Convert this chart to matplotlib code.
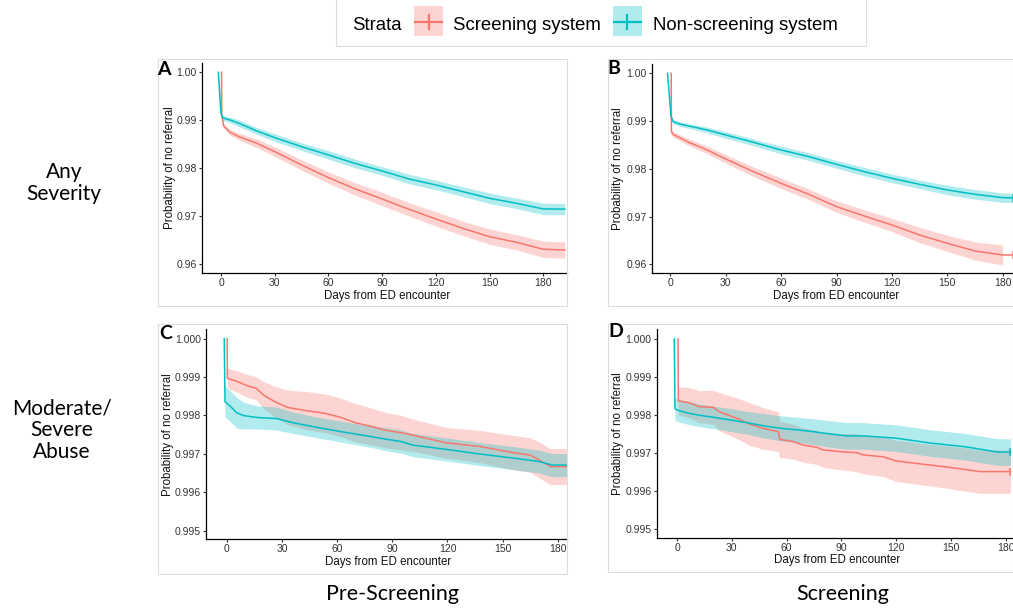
import numpy as np
import matplotlib
matplotlib.use("Agg")
import matplotlib.pyplot as plt
from matplotlib.patches import Rectangle
from matplotlib.lines import Line2D

W, H, DPI = 1013, 608, 100

# ---------------- data ----------------
strata_title = "Strata"
strata = ["Screening system", "Non-screening system"]
row_labels = ["Any\nSeverity", "Moderate/\nSevere\nAbuse"]
col_labels = ["Pre-Screening", "Screening"]
panel_letters = ["A", "B", "C", "D"]
x_label = "Days from ED encounter"
y_label = "Probability of no referral"
x_ticks = [0, 30, 60, 90, 120, 150, 180]
y_ticks_any = [0.96, 0.97, 0.98, 0.99, 1.00]
y_ticks_mod = [0.995, 0.996, 0.997, 0.998, 0.999, 1.000]

# Panel A: any severity, pre-screening
a_scr_days = [0.3, 0.4, 1.5, 5, 10, 20, 30, 45, 60, 75, 90, 105, 120, 135, 150, 165, 180, 192]
a_scr_surv = [1.0, 0.9912, 0.9888, 0.9875, 0.9866, 0.98521, 0.98347, 0.98069, 0.97806, 0.97569,
              0.97361, 0.97146, 0.96944, 0.9675, 0.96576, 0.96458, 0.96313, 0.96300]
a_scr_ci = [0, 0.0003, 0.0004, 0.0006, 0.0007, 0.0009, 0.0010, 0.0011, 0.0012, 0.0013,
            0.0014, 0.0014, 0.0015, 0.0015, 0.0016, 0.0016, 0.0017, 0.0017]
a_non_days = [-1.5, 0, 1, 5, 10, 20, 30, 45, 60, 75, 90, 105, 120, 135, 150, 165, 180, 192]
a_non_surv = [1.0, 0.9915, 0.9905, 0.99007, 0.98938, 0.98778, 0.98639, 0.98451, 0.98278, 0.9810,
              0.97944, 0.97778, 0.97653, 0.97514, 0.97375, 0.97271, 0.97153, 0.97150]
a_non_ci = [0, 0.0004, 0.0005, 0.0006, 0.0007, 0.0007, 0.0008, 0.0008, 0.0009, 0.0009,
            0.0009, 0.0010, 0.0010, 0.0010, 0.0011, 0.0011, 0.0012, 0.0012]

# Panel B: any severity, screening
b_scr_days = [0.5, 0.6, 1.5, 5, 10, 20, 30, 45, 60, 75, 90, 105, 120, 135, 150, 165, 180, 185.4]
b_scr_surv = [1.0, 0.98778, 0.98722, 0.98653, 0.98555, 0.98394, 0.98206, 0.97941, 0.97696, 0.97466,
              0.97208, 0.97012, 0.96824, 0.96614, 0.9644, 0.96279, 0.96195, 0.96195]
b_scr_ci = [0, 0.0005, 0.0006, 0.0006, 0.0007, 0.0008, 0.0009, 0.0010, 0.0011, 0.0011,
            0.0012, 0.0013, 0.0014, 0.0016, 0.0017, 0.0019, 0.0021, np.nan]
b_non_days = [-1.5, 0.4, 1.5, 5, 10, 20, 30, 45, 60, 75, 90, 105, 120, 135, 150, 165, 180, 185.4]
b_non_surv = [1.0, 0.9910, 0.98988, 0.98939, 0.98897, 0.98813, 0.98709, 0.98555, 0.98394, 0.98255,
              0.98094, 0.97941, 0.97801, 0.97675, 0.97557, 0.97466, 0.97396, 0.97390]
b_non_ci = [0, 0.0003, 0.0004, 0.0005, 0.0005, 0.0006, 0.0007, 0.0007, 0.0008, 0.0008,
            0.0008, 0.0009, 0.0009, 0.0009, 0.0010, 0.0010, 0.0010, 0.0010]

# Panel C: moderate/severe abuse, pre-screening
c_scr_days = [0.1, 0.2, 5.9, 11.3, 15.8, 20, 26, 33, 44, 53, 62, 70, 79, 86, 95, 101, 119, 138,
              156, 165, 170, 176, 185]
c_scr_surv = [1.0, 0.99897, 0.99888, 0.99877, 0.99871, 0.99853, 0.99836, 0.99821, 0.99812, 0.99806,
              0.99795, 0.99781, 0.99771, 0.99762, 0.99755, 0.99749, 0.99729, 0.99719, 0.99703,
              0.99697, 0.99684, 0.99667, 0.99667]
c_scr_ci = [0, 0.00026, 0.00028, 0.0003, 0.0003, 0.00035, 0.0004, 0.00045, 0.0005, 0.0005,
            0.0005, 0.0005, 0.00048, 0.00046, 0.00045, 0.00042, 0.0004, 0.00042, 0.00045,
            0.00045, 0.00047, 0.00047, 0.00047]
c_non_days = [-1.5, -1.1, 1.6, 5.3, 8.9, 16, 27, 36, 49, 62, 76, 87, 95, 101, 119, 137, 156, 170, 177, 185]
c_non_surv = [1.0, 0.99836, 0.99825, 0.99807, 0.99800, 0.99795, 0.99792, 0.99781, 0.99769, 0.99758,
              0.99747, 0.99738, 0.99732, 0.99723, 0.99712, 0.99700, 0.99689, 0.99680, 0.99671, 0.99671]
c_non_ci = [0, 0.0004, 0.0004, 0.0004, 0.00035, 0.0003, 0.0003, 0.00028, 0.00027, 0.00027,
            0.00028, 0.0003, 0.0003, 0.0003, 0.0003, 0.0003, 0.0003, 0.0003, 0.0003, 0.0003]

# Panel D: moderate/severe abuse, screening
d_scr_days = [0.6, 0.7, 7, 12, 20, 23, 28, 34, 39.8, 47, 55.5, 56.3, 63.6, 69, 76.6, 80, 91, 98.4,
              102, 113, 120, 139, 148, 157, 166, 182.6]
d_scr_surv = [1.0, 0.99837, 0.99832, 0.99822, 0.99820, 0.99809, 0.99800, 0.99789, 0.99776, 0.99765,
              0.99756, 0.99736, 0.99730, 0.99721, 0.99715, 0.99708, 0.99703, 0.99701, 0.99695,
              0.99690, 0.99679, 0.99668, 0.99663, 0.99657, 0.99651, 0.99651]
d_scr_ci = [0, 0.00037, 0.0004, 0.00042, 0.00045, 0.0005, 0.00052, 0.00054, 0.00056, 0.00055,
            0.00052, 0.00048, 0.00046, 0.00045, 0.00045, 0.00046, 0.00048, 0.0005, 0.0005,
            0.00052, 0.00054, 0.00055, 0.00056, 0.00057, 0.00057, 0.00057]
d_non_days = [-1.5, -1.1, 1.5, 7, 12.6, 19.9, 29, 38, 47, 56.6, 65.7, 74.8, 84, 93, 102, 120, 139,
              157, 175, 182.6]
d_non_surv = [1.0, 0.99816, 0.99811, 0.99804, 0.99799, 0.99794, 0.99787, 0.99780, 0.99772, 0.99765,
              0.99761, 0.99756, 0.99750, 0.99745, 0.99745, 0.99739, 0.99726, 0.99717, 0.99703, 0.99702]
d_non_ci = [0, 0.0003, 0.0003, 0.0003, 0.0003, 0.0003, 0.0003, 0.0003, 0.00032, 0.00033,
            0.00033, 0.00034, 0.00035, 0.00035, 0.00035, 0.00035, 0.00035, 0.00035, 0.00035, 0.00035]

# ---------------- style ----------------
C_SCR = "#F8766D"
C_NON = "#00BFC4"
TICK_FONT = "Liberation Sans"
TEXT_FONT = "Lato"

fig = plt.figure(figsize=(W / DPI, H / DPI), dpi=DPI)


def fx(px):
    return px / W


def fy(py):
    return 1 - py / H


def add_axes_px(l, t, r, b):
    return fig.add_axes([fx(l), fy(b), (r - l) / W, (b - t) / H])


panels = [
    dict(box=(201.7, 62.7, 567, 273), xlim=(-10.78, 193.2), ylim=(0.95819, 1.002), yt=y_ticks_any,
         fmt="{:.2f}", ylab_x=170, xlab=(386.7, 295.5), letter=(157, 75), censor=False,
         scr=(a_scr_days, a_scr_surv, a_scr_ci), non=(a_non_days, a_non_surv, a_non_ci)),
    dict(box=(651.7, 63.8, 1013, 273.3), xlim=(-10.07, 185.57), ylim=(0.95812, 1.00199), yt=y_ticks_any,
         fmt="{:.2f}", ylab_x=618, xlab=(835.8, 295.5), letter=(607, 74), censor=True,
         scr=(b_scr_days, b_scr_surv, b_scr_ci), non=(b_non_days, b_non_surv, b_non_ci)),
    dict(box=(206, 329.1, 567, 539.3), xlim=(-11.43, 185.06), ylim=(0.994776, 1.00025), yt=y_ticks_mod,
         fmt="{:.3f}", ylab_x=168, xlab=(388.3, 562.5), letter=(159, 339), censor=False,
         scr=(c_scr_days, c_scr_surv, c_scr_ci), non=(c_non_days, c_non_surv, c_non_ci)),
    dict(box=(656.7, 329.5, 1013, 537.7), xlim=(-11.12, 184.0), ylim=(0.994771, 1.00025), yt=y_ticks_mod,
         fmt="{:.3f}", ylab_x=618, xlab=(837.5, 559.5), letter=(608, 337), censor=True,
         scr=(d_scr_days, d_scr_surv, d_scr_ci), non=(d_non_days, d_non_surv, d_non_ci)),
]

frames = [(158, 59, 567, 306), (608, 59, 1013, 306), (158, 324, 567, 574), (608, 324, 1013, 572)]
for (l, t, r, b) in frames:
    fig.add_artist(Rectangle((fx(l), fy(b)), (r - l) / W, (b - t) / H, transform=fig.transFigure,
                             fill=False, edgecolor="#DCDCDC", linewidth=0.8))


def draw_series(ax, days, surv, ci, color):
    d = np.asarray(days, float)
    s = np.asarray(surv, float)
    c = np.asarray(ci, float)
    lo, hi = s - c, s + c
    ok = ~np.isnan(c)
    ax.fill_between(d[ok], lo[ok], hi[ok], color=color, alpha=0.3, linewidth=0)
    ax.plot(d, s, color=color, linewidth=1.1)


for p, letter in zip(panels, panel_letters):
    l, t, r, b = p["box"]
    ax = add_axes_px(l, t, r, b)
    draw_series(ax, *p["scr"], C_SCR)
    draw_series(ax, *p["non"], C_NON)
    if p["censor"]:
        for (dd, ss, _), col in ((p["scr"], C_SCR), (p["non"], C_NON)):
            ax.plot([dd[-1]], [ss[-1]], marker="|", markersize=6, color=col, markeredgewidth=1.1)
    ax.set_xlim(*p["xlim"])
    ax.set_ylim(*p["ylim"])
    ax.set_xticks(x_ticks)
    ax.set_xticklabels([str(v) for v in x_ticks])
    ax.set_yticks(p["yt"])
    ax.set_yticklabels([p["fmt"].format(v) for v in p["yt"]])
    for sp in ("top", "right"):
        ax.spines[sp].set_visible(False)
    for sp in ("left", "bottom"):
        ax.spines[sp].set_linewidth(0.9)
        ax.spines[sp].set_color("black")
    ax.tick_params(axis="both", direction="out", length=2.5, width=0.8, pad=1.2,
                   labelsize=7.5, labelcolor="#333333", color="#333333")
    for lab in ax.get_xticklabels() + ax.get_yticklabels():
        lab.set_fontfamily(TICK_FONT)
    ax.set_facecolor("none")
    ax.set_xlabel(x_label, fontsize=8.3, family=TICK_FONT, color="#111111")
    ax.set_ylabel(y_label, fontsize=8.3, family=TICK_FONT, color="#111111")
    ax.xaxis.label.set_va("center")
    ax.yaxis.label.set_va("center")
    ax.xaxis.set_label_coords((p["xlab"][0] - l) / (r - l), (b - p["xlab"][1]) / (b - t))
    ax.yaxis.set_label_coords((p["ylab_x"] - l) / (r - l), 0.5)
    lx, ly = p["letter"]
    fig.text(fx(lx), fy(ly), letter, fontsize=14, fontweight="bold", family=TEXT_FONT,
             ha="left", va="baseline", color="black")

# row and column labels
fig.text(fx(64), fy(183), row_labels[0], fontsize=15, family=TEXT_FONT, ha="center", va="center",
         multialignment="center", linespacing=1.15)
fig.text(fx(62), fy(430), row_labels[1], fontsize=15, family=TEXT_FONT, ha="center", va="center",
         multialignment="center", linespacing=1.1)
fig.text(fx(392), fy(599.5), col_labels[0], fontsize=15.5, family=TEXT_FONT, ha="center", va="baseline")
fig.text(fx(843), fy(599.5), col_labels[1], fontsize=15.5, family=TEXT_FONT, ha="center", va="baseline")

# legend (top)
fig.add_artist(Rectangle((fx(336), fy(46)), (866 - 336) / W, 48 / H, transform=fig.transFigure,
                         fill=False, edgecolor="#DCDCDC", linewidth=0.8))
fig.text(fx(352.5), fy(29.5), strata_title, fontsize=13.4, family=TICK_FONT, ha="left", va="baseline")
for (kl, kr, tx), col, lab in zip([(414, 443, 453), (612.7, 641.7, 653)], [C_SCR, C_NON], strata):
    fig.add_artist(Rectangle((fx(kl), fy(36)), (kr - kl) / W, 30 / H, transform=fig.transFigure,
                             facecolor=col, alpha=0.3, edgecolor="none"))
    fig.add_artist(Line2D([fx(kl + 1), fx(kr - 1)], [fy(21.5), fy(21.5)], transform=fig.transFigure,
                          color=col, linewidth=1.6))
    fig.add_artist(Line2D([fx((kl + kr) / 2)] * 2, [fy(14.5), fy(28.5)], transform=fig.transFigure,
                          color=col, linewidth=1.6))
    fig.text(fx(tx), fy(29.5), lab, fontsize=13.4, family=TICK_FONT, ha="left", va="baseline")

fig.savefig("out.png", dpi=DPI)
